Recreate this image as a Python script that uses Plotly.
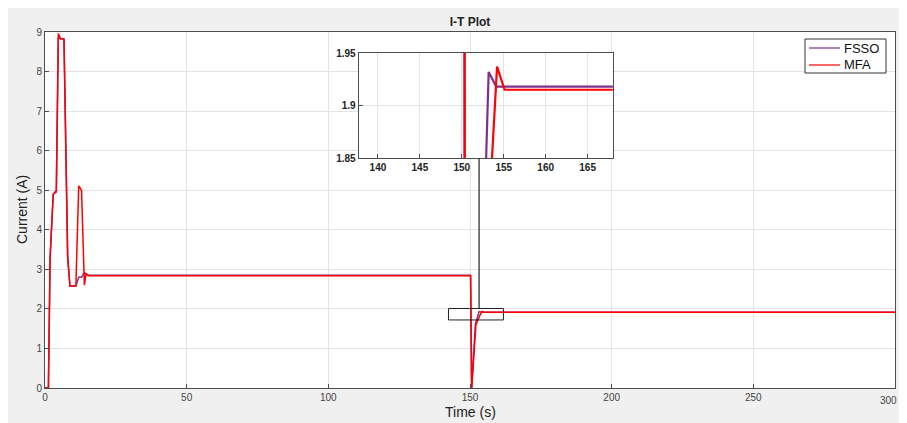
import plotly.graph_objects as go

# ---- data ----
fsso_t = [0, 1.2, 1.8, 2.9, 4.0, 4.7, 5.5, 6.7, 8.0, 8.8, 10.9, 11.9, 12.9, 13.9, 14.5, 15.3,
          149.8, 150.2, 150.6, 151.9, 152.9, 153.2, 154.1, 300]
fsso_i = [0, 0, 3.3, 4.9, 4.95, 8.85, 8.83, 8.82, 3.32, 2.58, 2.58, 2.8, 2.8, 2.92, 2.88, 2.85,
          2.85, 2.85, 0, 1.62, 1.85, 1.932, 1.918, 1.918]
mfa_t = [0, 1.2, 1.8, 2.9, 4.0, 4.7, 5.5, 6.7, 8.0, 8.8, 10.9, 11.9, 12.9, 13.9, 14.5, 15.3,
         149.8, 150.2, 150.6, 152.1, 153.6, 154.2, 155.1, 300]
mfa_i = [0, 0, 3.3, 4.9, 5.0, 8.96, 8.83, 8.82, 3.32, 2.58, 2.58, 5.11, 5.0, 2.6, 2.9, 2.84,
         2.84, 2.84, 0, 1.6, 1.85, 1.937, 1.915, 1.915]

series_names = ["FSSO", "MFA"]
x_ticks = [0, 50, 100, 150, 200, 250, 300]
y_ticks = [0, 1, 2, 3, 4, 5, 6, 7, 8, 9]
inset_x_ticks = [140, 145, 150, 155, 160, 165]
inset_y_ticks = [1.85, 1.9, 1.95]

PURPLE = "#7E2F8E"
RED = "#FF0000"
AX = "#4d4d4d"
GRID = "#e3e3e3"
FONT = "Liberation Sans, Arial, sans-serif"

# figure sits at an 8px page offset; plot area in figure coords: x 37..887, y 24..380
W, H = 891, 415
L, R, T, B = 37, 4, 24, 35
PW, PH = W - L - R, H - T - B


def px(page_x):
    return (page_x - 45) / PW


def py(page_y):
    return (388 - page_y) / PH


fig = go.Figure()
fig.add_trace(go.Scatter(x=fsso_t, y=fsso_i, mode="lines", name=series_names[0],
                         line=dict(color=PURPLE, width=1.5), xaxis="x", yaxis="y"))
fig.add_trace(go.Scatter(x=mfa_t, y=mfa_i, mode="lines", name=series_names[1],
                         line=dict(color=RED, width=1.5), xaxis="x", yaxis="y"))
fig.add_trace(go.Scatter(x=fsso_t, y=fsso_i, mode="lines", showlegend=False,
                         line=dict(color=PURPLE, width=2.2), xaxis="x2", yaxis="y2"))
fig.add_trace(go.Scatter(x=mfa_t, y=mfa_i, mode="lines", showlegend=False,
                         line=dict(color=RED, width=2.2), xaxis="x2", yaxis="y2"))

axis_common = dict(showline=True, linecolor=AX, linewidth=1, mirror=True,
                   ticks="inside", ticklen=4, tickcolor=AX, showgrid=True,
                   gridcolor=GRID, gridwidth=1, zeroline=False, automargin=False)

# last main x tick label is drawn as a right-anchored annotation so it stays inside the page
main_x_text = [str(v) for v in x_ticks[:-1]] + [""]

fig.update_layout(
    width=W, height=H,
    paper_bgcolor="#f0f0f0", plot_bgcolor="white",
    margin=dict(l=L, r=R, t=T, b=B),
    font=dict(family=FONT, color="#333333", size=10),
    title=dict(text="<b>I-T Plot</b>", x=0.5, xref="paper", xanchor="center",
               y=1 - 14 / H, yanchor="middle", font=dict(size=12, color="#222222")),
    xaxis=dict(range=[0, 300], tickvals=x_ticks, ticktext=main_x_text, domain=[0, 1],
               tickfont=dict(size=10, color="#444444"), **axis_common),
    yaxis=dict(range=[0, 9], tickvals=y_ticks, domain=[0, 1],
               tickfont=dict(size=10, color="#444444"), **axis_common),
    xaxis2=dict(range=[137.7, 168], tickvals=inset_x_ticks, domain=[0.369, 0.668],
                anchor="y2", ticktext=["<b>%d</b>" % v for v in inset_x_ticks],
                tickfont=dict(size=10, color="#222222"), **axis_common),
    yaxis2=dict(range=[1.85, 1.95], tickvals=inset_y_ticks,
                ticktext=["<b>%s</b>" % ("%.2f" % v).rstrip("0") for v in inset_y_ticks],
                domain=[0.646, 0.941], anchor="x2",
                tickfont=dict(size=10, color="#222222"), **axis_common),
    showlegend=False,
)

fig.add_annotation(text=str(x_ticks[-1]), xref="paper", yref="paper", x=px(898.5),
                   y=py(400), xanchor="right", yanchor="middle", showarrow=False,
                   font=dict(size=10, color="#444444"))

# axis titles as annotations for exact placement
fig.add_annotation(text="Time (s)", xref="paper", yref="paper", x=0.5,
                   y=py(412), showarrow=False, xanchor="center",
                   yanchor="middle", font=dict(size=14, color="#222222"))
fig.add_annotation(text="Current (A)", xref="paper", yref="paper",
                   x=px(22), y=0.5, showarrow=False, textangle=-90,
                   xanchor="center", yanchor="middle", font=dict(size=14, color="#222222"))

# legend box (drawn to match the MATLAB legend size)
fig.add_shape(type="rect", xref="paper", yref="paper", x0=px(805), x1=px(886),
              y0=py(73), y1=py(39), fillcolor="white",
              line=dict(color="#333333", width=1))
for name, color, yy in zip(series_names, [PURPLE, RED], [48, 65]):
    fig.add_shape(type="line", xref="paper", yref="paper", x0=px(809), x1=px(840),
                  y0=py(yy), y1=py(yy), line=dict(color=color, width=1.2))
    fig.add_annotation(text=name, xref="paper", yref="paper", x=px(842), y=py(yy),
                       xanchor="left", yanchor="middle", showarrow=False,
                       font=dict(size=13, color="#111111"))

# zoom indicator rectangle and connector
fig.add_shape(type="rect", xref="x", yref="y", x0=142.4, x1=161.8, y0=1.72, y1=2.01,
              line=dict(color="#222222", width=1), fillcolor="rgba(0,0,0,0)")
fig.add_shape(type="line", xref="x", yref="y", x0=153.2, x1=153.2, y0=2.01, y1=5.81,
              line=dict(color="#222222", width=1.2))

fig.write_html("out.html")
